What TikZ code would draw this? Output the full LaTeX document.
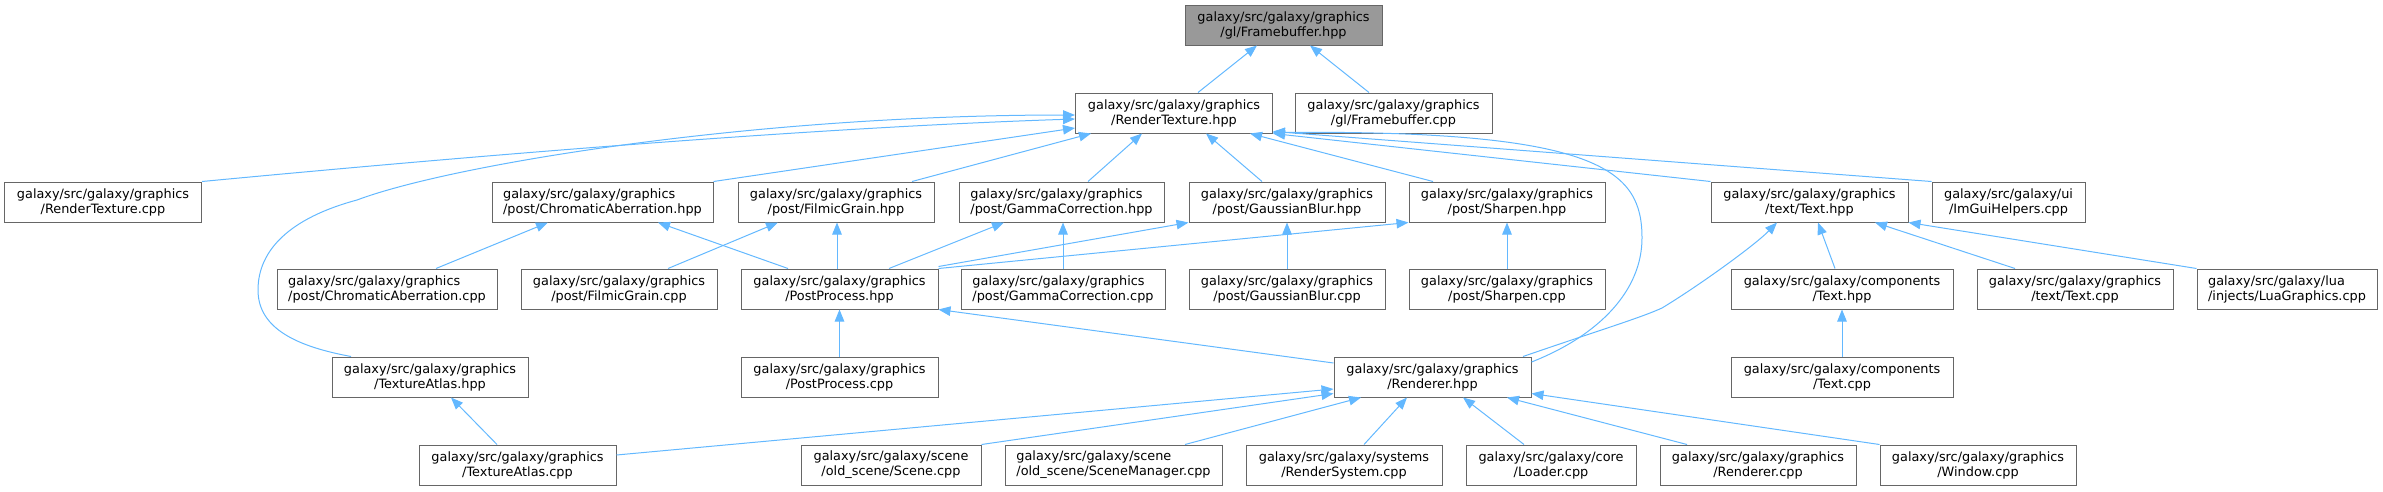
\documentclass[tikz,border=0pt]{standalone}
\usepackage{fontspec}
\setmainfont{DejaVu Sans}
\usetikzlibrary{arrows.meta}
\definecolor{edgeblue}{HTML}{63B8FF}
\definecolor{nodeborder}{HTML}{666666}
\definecolor{rootfill}{HTML}{999999}
\newcommand\twoline[2]{%
  \begingroup
  \setbox0=\hbox{#1}\setbox2=\hbox{#2}%
  \dimen0=\wd0 \ifdim\wd2>\dimen0 \dimen0=\wd2\fi
  \vbox{\baselineskip=15pt\lineskiplimit=-20pt
    \hbox to\dimen0{\box0\hfil}\hbox to\dimen0{\hfil\box2\hfil}}%
  \endgroup}
\begin{document}
\begin{tikzpicture}[x=1pt,y=-1pt,
  filebox/.style={draw=nodeborder, line width=1pt, fill=white, minimum height=40pt,
    inner sep=0pt, font={\fontsize{12.85pt}{15pt}\selectfont}, text=black},
  edge/.style={draw=edgeblue, line width=1pt, -{Triangle[length=12pt,width=9.5pt]}}]
\useasboundingbox (0,0) rectangle (2383,491);
% row 1
\node[filebox, minimum width=197pt, fill=rootfill] (FBH) at (1283.5,25) {\twoline{galaxy/src/galaxy/graphics}{/gl/Framebuffer.hpp}};
% row 2
\node[filebox, minimum width=197pt] (RTH) at (1174,113) {\twoline{galaxy/src/galaxy/graphics}{/RenderTexture.hpp}};
\node[filebox, minimum width=197pt] (FBC) at (1393.5,113) {\twoline{galaxy/src/galaxy/graphics}{/gl/Framebuffer.cpp}};
% row 3
\node[filebox, minimum width=197pt] (RTC) at (103,202) {\twoline{galaxy/src/galaxy/graphics}{/RenderTexture.cpp}};
\node[filebox, minimum width=221pt] (CAH) at (602.5,202) {\twoline{galaxy/src/galaxy/graphics}{/post/ChromaticAberration.hpp}};
\node[filebox, minimum width=196pt] (FGH) at (836,202) {\twoline{galaxy/src/galaxy/graphics}{/post/FilmicGrain.hpp}};
\node[filebox, minimum width=205pt] (GCH) at (1061.5,202) {\twoline{galaxy/src/galaxy/graphics}{/post/GammaCorrection.hpp}};
\node[filebox, minimum width=196pt] (GBH) at (1287,202) {\twoline{galaxy/src/galaxy/graphics}{/post/GaussianBlur.hpp}};
\node[filebox, minimum width=196pt] (SHH) at (1507,202) {\twoline{galaxy/src/galaxy/graphics}{/post/Sharpen.hpp}};
\node[filebox, minimum width=197pt] (TXH) at (1809.5,202) {\twoline{galaxy/src/galaxy/graphics}{/text/Text.hpp}};
\node[filebox, minimum width=153pt] (IMG) at (2008.5,202) {\twoline{galaxy/src/galaxy/ui}{/ImGuiHelpers.cpp}};
% row 4
\node[filebox, minimum width=220pt] (CAC) at (387,289) {\twoline{galaxy/src/galaxy/graphics}{/post/ChromaticAberration.cpp}};
\node[filebox, minimum width=196pt] (FGC) at (619,289) {\twoline{galaxy/src/galaxy/graphics}{/post/FilmicGrain.cpp}};
\node[filebox, minimum width=197pt] (PPH) at (839.5,289) {\twoline{galaxy/src/galaxy/graphics}{/PostProcess.hpp}};
\node[filebox, minimum width=204pt] (GCC) at (1063,289) {\twoline{galaxy/src/galaxy/graphics}{/post/GammaCorrection.cpp}};
\node[filebox, minimum width=196pt] (GBC) at (1287,289) {\twoline{galaxy/src/galaxy/graphics}{/post/GaussianBlur.cpp}};
\node[filebox, minimum width=196pt] (SHC) at (1507,289) {\twoline{galaxy/src/galaxy/graphics}{/post/Sharpen.cpp}};
\node[filebox, minimum width=222pt] (CTH) at (1842,289) {\twoline{galaxy/src/galaxy/components}{/Text.hpp}};
\node[filebox, minimum width=196pt] (TXC) at (2075,289) {\twoline{galaxy/src/galaxy/graphics}{/text/Text.cpp}};
\node[filebox, minimum width=180pt] (LUA) at (2287,289) {\twoline{galaxy/src/galaxy/lua}{/injects/LuaGraphics.cpp}};
% row 5
\node[filebox, minimum width=196pt] (TAH) at (430,377) {\twoline{galaxy/src/galaxy/graphics}{/TextureAtlas.hpp}};
\node[filebox, minimum width=197pt] (PPC) at (839.5,377) {\twoline{galaxy/src/galaxy/graphics}{/PostProcess.cpp}};
\node[filebox, minimum width=197pt] (RRH) at (1432.5,377) {\twoline{galaxy/src/galaxy/graphics}{/Renderer.hpp}};
\node[filebox, minimum width=222pt] (CTC) at (1842,377) {\twoline{galaxy/src/galaxy/components}{/Text.cpp}};
% row 6
\node[filebox, minimum width=197pt] (TAC) at (517.5,465) {\twoline{galaxy/src/galaxy/graphics}{/TextureAtlas.cpp}};
\node[filebox, minimum width=180pt] (SCN) at (891,465) {\twoline{galaxy/src/galaxy/scene}{/old\_scene/Scene.cpp}};
\node[filebox, minimum width=217pt] (SMG) at (1113.5,465) {\twoline{galaxy/src/galaxy/scene}{/old\_scene/SceneManager.cpp}};
\node[filebox, minimum width=196pt] (RSY) at (1344,465) {\twoline{galaxy/src/galaxy/systems}{/RenderSystem.cpp}};
\node[filebox, minimum width=170pt] (LDR) at (1551,465) {\twoline{galaxy/src/galaxy/core}{/Loader.cpp}};
\node[filebox, minimum width=196pt] (RRC) at (1758,465) {\twoline{galaxy/src/galaxy/graphics}{/Renderer.cpp}};
\node[filebox, minimum width=196pt] (WIN) at (1978,465) {\twoline{galaxy/src/galaxy/graphics}{/Window.cpp}};

% edges to Framebuffer.hpp
\draw[edge] ([xshift=24pt]RTH.north) -- ([xshift=-26.5pt]FBH.south);
\draw[edge] ([xshift=-24.5pt]FBC.north) -- ([xshift=26.5pt]FBH.south);
% edges to RenderTexture.hpp
\draw[edge] (RTC.north east) .. controls (450,158) and (800,128) .. ([yshift=-6pt]RTH.west);
\draw[edge] ([xshift=-79pt]TAH.north) .. controls (300,347) and (258,330) .. (258,290)
  .. controls (258,250) and (290,218) .. (357,200)
  .. controls (450,165) and (750,115) .. ([yshift=-2pt]RTH.west);
\draw[edge] (CAH.north east) -- ([yshift=-15pt]RTH.west);
\draw[edge] ([xshift=76pt]FGH.north) -- ([xshift=-83pt]RTH.south);
\draw[edge] ([xshift=26.5pt]GCH.north) -- ([xshift=-32pt]RTH.south);
\draw[edge] ([xshift=-25pt]GBH.north) -- ([xshift=32pt]RTH.south);
\draw[edge] ([xshift=-74pt]SHH.north) -- ([xshift=76pt]RTH.south);
\draw[edge] (TXH.north west) -- (RTH.south east);
\draw[edge] (IMG.north west) -- ([yshift=2pt]RTH.south east);
\draw[edge] ([yshift=15pt]RRH.east) .. controls (1600,335) and (1642,290) .. (1642,238)
  .. controls (1642,170) and (1600,130) .. ([yshift=1pt]RTH.south east);
% edges to ChromaticAberration.hpp
\draw[edge] ([xshift=49pt]CAC.north) -- ([xshift=-54.5pt]CAH.south);
\draw[edge] ([xshift=-51.5pt]PPH.north) -- ([xshift=55.5pt]CAH.south);
% edges to FilmicGrain.hpp
\draw[edge] ([xshift=49pt]FGC.north) -- ([xshift=-58pt]FGH.south);
\draw[edge] ([xshift=-2.5pt]PPH.north) -- ([xshift=1pt]FGH.south);
% edges to GammaCorrection.hpp
\draw[edge] ([xshift=49.5pt]PPH.north) -- ([xshift=-57.5pt]GCH.south);
\draw[edge] (GCC.north) -- ([xshift=1.5pt]GCH.south);
% edges to GaussianBlur.hpp and Sharpen.hpp
\draw[edge] ([yshift=2pt]PPH.north east) -- (GBH.south west);
\draw[edge] (PPH.north east) -- (SHH.south west);
\draw[edge] (GBC) -- (GBH);
\draw[edge] (SHC) -- (SHH);
% edges to PostProcess.hpp
\draw[edge] (PPC) -- (PPH);
\draw[edge] ([yshift=14pt]RRH.west) -- (PPH.south east);
% edges to text/Text.hpp
\draw[edge] ([xshift=90.5pt]RRH.north) .. controls (1600,330) and (1640,318) .. (1662,308)
  .. controls (1700,285) and (1755,245) .. ([xshift=-32.5pt]TXH.south);
\draw[edge] ([xshift=-7pt]CTH.north) -- ([xshift=8.5pt]TXH.south);
\draw[edge] ([xshift=-60pt]TXC.north) -- ([xshift=65.5pt]TXH.south);
\draw[edge] (LUA.north west) -- (TXH.south east);
\draw[edge] (CTC) -- (CTH);
% edges to TextureAtlas.hpp
\draw[edge] ([xshift=-20.5pt]TAC.north) -- ([xshift=21pt]TAH.south);
% edges to Renderer.hpp
\draw[edge] ([yshift=10pt]TAC.east) -- ([yshift=-12pt]RRH.west);
\draw[edge] (SCN.north east) -- ([yshift=4pt]RRH.south west);
\draw[edge] ([xshift=71.5pt]SMG.north) -- ([xshift=-71.5pt]RRH.south);
\draw[edge] ([xshift=20pt]RSY.north) -- ([xshift=-25.5pt]RRH.south);
\draw[edge] ([xshift=-27pt]LDR.north) -- ([xshift=30.5pt]RRH.south);
\draw[edge] ([xshift=-71pt]RRC.north) -- ([xshift=74.5pt]RRH.south);
\draw[edge] (WIN.north west) -- ([yshift=4pt]RRH.south east);
\end{tikzpicture}
\end{document}
